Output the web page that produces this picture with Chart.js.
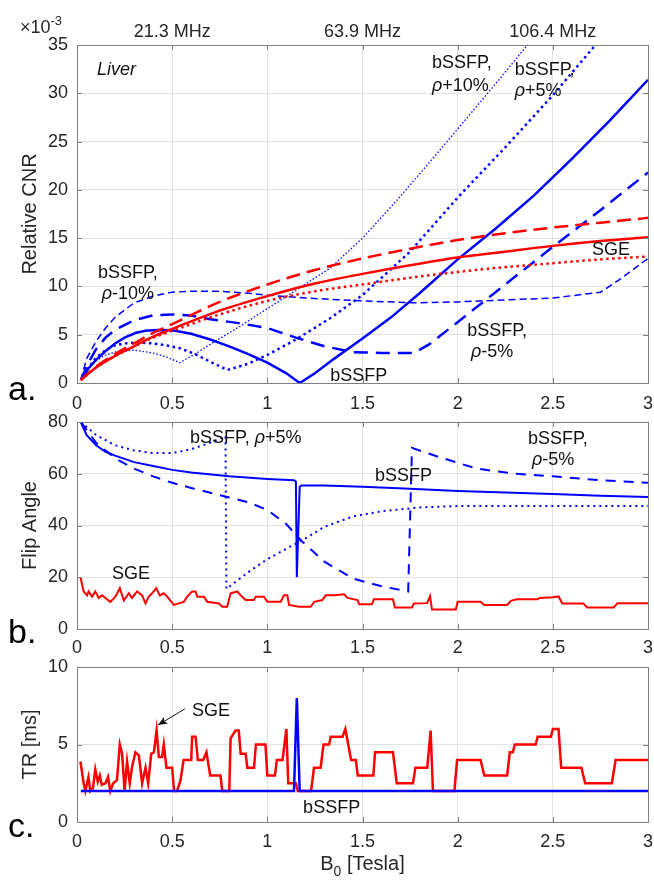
<!DOCTYPE html>
<html>
<head>
<meta charset="utf-8">
<title>Liver CNR, flip angle and TR vs B0</title>
<script src="https://cdn.jsdelivr.net/npm/chart.js@4.4.1/dist/chart.umd.min.js"></script>
<style>
  html, body { margin:0; padding:0; background:#fff; }
  #wrap { position:relative; width:654px; height:881px; }
  #wrap canvas { position:absolute; left:0; }
</style>
</head>
<body>
<div id="wrap">
  <canvas id="cnrChart" width="654" height="415" style="top:0"></canvas>
  <canvas id="faChart" width="654" height="260" style="top:400px"></canvas>
  <canvas id="trChart" width="654" height="236" style="top:645px"></canvas>
</div>
<script>
// ==== Panel a: relative CNR (x 1e-3) ====
const sgeX     = [0.02,0.1,0.2,0.3,0.4,0.5,0.75,1.0,1.25,1.5,1.75,2.0,2.25,2.5,2.75,3.0];
const sgeCnr   = [0.3,1.6,2.8,3.8,4.8,5.6,7.5,9.0,10.3,11.3,12.2,13.0,13.6,14.2,14.7,15.1];
const sgeCnrHi = [0.3,1.7,3.0,4.1,5.2,6.1,8.4,10.2,11.7,12.9,13.9,14.8,15.5,16.1,16.6,17.1];
const sgeCnrLo = [0.3,1.6,2.8,3.8,4.7,5.4,7.1,8.5,9.5,10.2,10.9,11.5,12.0,12.4,12.8,13.1];

const ssfpX   = [0.02,0.06,0.1,0.15,0.2,0.25,0.31,0.36,0.42,0.5,0.6,0.7,0.8,0.9,1.0,1.1,1.17,1.25,1.35,1.5,1.65,1.8,2.0,2.2,2.4,2.6,2.8,3.0];
const ssfpCnr = [0.3,1.5,2.4,3.3,4.1,4.7,5.2,5.4,5.5,5.45,5.1,4.5,3.8,3.0,2.1,1.0,0,1.0,2.5,4.6,6.8,9.3,12.8,16.0,19.4,23.2,27.2,31.4];

const ssfpP10X   = [0.02,0.06,0.1,0.15,0.2,0.3,0.4,0.47,0.54,0.62,0.7,0.85,1.0,1.15,1.33,1.5,1.68,1.85,2.0,2.2,2.4];
const ssfpP10Cnr = [0.3,1.5,2.3,2.9,3.2,3.4,3.1,2.7,2.1,3.0,4.0,5.8,7.7,9.6,11.9,15.0,18.9,22.8,26.3,31.0,35.8];

const ssfpP5X   = [0.02,0.06,0.1,0.15,0.2,0.25,0.32,0.4,0.47,0.54,0.62,0.7,0.79,0.9,1.0,1.15,1.33,1.5,1.75,2.0,2.25,2.5,2.75];
const ssfpP5Cnr = [0.3,1.6,2.6,3.4,3.9,4.1,4.2,4.1,3.9,3.6,3.0,2.2,1.35,2.0,2.9,4.5,6.7,9.1,13.6,19.2,24.4,29.8,35.6];

const ssfpM10X   = [0.02,0.05,0.1,0.15,0.2,0.3,0.4,0.5,0.6,0.75,0.9,1.0,1.2,1.5,1.77,2.0,2.25,2.5,2.75,2.85,3.0];
const ssfpM10Cnr = [0.3,2.5,4.3,5.7,6.8,8.3,9.0,9.4,9.5,9.5,9.3,9.1,8.8,8.5,8.3,8.4,8.6,8.8,9.4,10.7,12.9];

const ssfpM5X   = [0.02,0.06,0.1,0.15,0.2,0.3,0.4,0.5,0.6,0.7,0.85,1.0,1.15,1.3,1.45,1.6,1.77,1.85,2.0,2.25,2.5,2.75,3.0];
const ssfpM5Cnr = [0.3,2.1,3.5,4.7,5.5,6.5,7.0,7.1,7.0,6.6,6.2,5.7,4.7,3.8,3.2,3.1,3.1,4.0,6.3,10.2,14.1,17.9,21.8];

// ==== Panel b: flip angle (deg) ====
const faSsfpX = [0.02,0.05,0.1,0.15,0.2,0.3,0.4,0.5,0.6,0.8,1.0,1.14,1.15,1.155,1.17,1.18,1.3,1.5,1.75,2.0,2.25,2.5,2.75,3.0];
const faSsfp  = [80,75,71,68.5,67,64.5,63,61.5,60.5,59,58,57.5,57,20,55,55.5,55.5,55,54.2,53.3,52.8,52.2,51.5,51];

const faP5X = [0.02,0.1,0.2,0.3,0.4,0.5,0.6,0.7,0.78,0.785,0.9,1.0,1.1,1.2,1.3,1.45,1.6,1.8,2.0,2.5,3.0];
const faP5  = [80,75,71,69,68,68,69.5,72,74.5,15.5,22,27,31,35,39.5,43.5,45.5,47,47.5,47.5,47.5];

const faM5X = [0.02,0.1,0.2,0.3,0.4,0.5,0.6,0.79,0.9,1.0,1.1,1.18,1.3,1.45,1.6,1.74,1.76,1.9,2.1,2.3,2.5,2.75,3.0];
const faM5  = [80,72,66,62,59,56.5,54.5,51,49,46,40.5,34,26,19.5,16.5,14.5,70,66.5,62,60,59,57.5,56.5];

const faSgeX = [0.018,0.035,0.053,0.061,0.079,0.096,0.114,0.132,0.149,0.175,0.202,0.225,0.246,0.272,0.289,0.316,0.342,0.36,0.377,0.395,0.416,0.435,0.456,0.474,0.509,0.535,0.561,0.579,0.605,0.623,0.632,0.667,0.684,0.746,0.763,0.789,0.807,0.842,0.86,0.886,0.93,0.939,0.982,1.0,1.07,1.088,1.105,1.114,1.167,1.228,1.246,1.289,1.307,1.351,1.404,1.421,1.474,1.482,1.55,1.56,1.66,1.67,1.76,1.77,1.84,1.855,1.865,1.99,2.0,2.12,2.14,2.26,2.28,2.31,2.42,2.43,2.5,2.53,2.55,2.66,2.68,2.82,2.84,3.0];
const faSge  = [20,14.5,13,14.5,12.5,14.5,12,13,12,10.5,12.5,15.8,11,13.8,12,14.5,13,9.9,12.5,13.8,15.8,13,13.8,12.5,9.3,9.9,10.5,12.5,14.5,14.5,12.5,12.5,10.5,9.9,8.6,8.6,13.8,14.5,13,11.2,11.2,12.5,12.5,10.5,10.5,13,13,9.3,8.6,8.6,10.5,11.2,13,13,13.4,12,11.2,9.6,9.6,11.5,11.5,8.3,8.3,9.9,10,12.7,7.5,7.5,10.5,10.5,9.3,9.3,10.9,11.5,11.5,12,12.3,12.6,9.9,9.9,8.3,8.3,10,10];

// ==== Panel c: TR (ms) ====
const trSgeX = [0.018,0.035,0.044,0.06,0.07,0.084,0.096,0.109,0.12,0.13,0.149,0.163,0.175,0.19,0.21,0.225,0.237,0.25,0.263,0.277,0.29,0.307,0.325,0.342,0.36,0.374,0.39,0.404,0.418,0.43,0.447,0.456,0.47,0.5,0.51,0.526,0.544,0.56,0.6,0.605,0.623,0.635,0.663,0.68,0.7,0.754,0.763,0.8,0.807,0.833,0.85,0.86,0.886,0.895,0.93,0.94,0.99,1.0,1.04,1.05,1.08,1.1,1.11,1.15,1.16,1.23,1.245,1.28,1.295,1.325,1.333,1.395,1.41,1.44,1.465,1.475,1.557,1.566,1.66,1.68,1.765,1.778,1.84,1.858,1.87,1.983,1.997,2.12,2.14,2.26,2.274,2.29,2.3,2.41,2.42,2.49,2.5,2.53,2.544,2.65,2.67,2.81,2.83,3.0];
const trSge  = [3.9,2.5,2.0,2.9,2.0,2.2,3.4,2.6,3.0,2.4,2.5,2.9,2.0,2.5,2.7,5.0,4.4,2.0,3.9,2.5,3.6,4.5,4.3,2.5,3.5,2.5,4.4,4.5,5.9,4.2,4.2,5.0,3.5,3.5,2.0,2.0,2.7,4.0,4.0,5.5,5.5,4.0,4.0,4.5,3.0,3.0,2.0,2.0,5.4,5.9,5.9,4.4,4.4,3.5,3.5,5.0,5.0,3.0,3.0,4.0,4.0,6.0,2.5,2.5,2.0,2.0,3.5,3.5,5.0,5.0,5.5,5.5,6.0,4.0,4.0,3.0,3.0,4.5,4.5,2.5,2.5,3.5,3.5,5.9,2.0,2.0,4.0,4.0,3.0,3.0,4.5,4.5,5.0,5.0,5.5,5.5,6.0,6.0,3.5,3.5,2.5,2.5,4.0,4.0];
const trSsfpX = [0.02,1.14,1.155,1.17,3.0];
const trSsfp  = [2,2,8,2,2];

// ==== Axes ====
const fieldRange = [0, 3];
const mhzAt      = [0.5, 1.5, 2.5];
const mhzLabels  = ["21.3 MHz", "63.9 MHz", "106.4 MHz"];

// ==== Styling ====
const FONT = "'Liberation Sans', Arial, sans-serif";
const RED = "#ff0000", BLUE = "#0000ff";
const GRID = "#e2e2e2", BOX = "#808080", INK = "#262626";
const NONE = "rgba(0,0,0,0)";

const pts = (xs, ys) => xs.map((x, i) => ({ x, y: ys[i] }));

function line(xs, ys, color, width, dash, smooth) {
  return {
    data: pts(xs, ys), borderColor: color, borderWidth: width, borderDash: dash || [],
    pointRadius: 0, fill: false, tension: 0,
    cubicInterpolationMode: smooth ? "monotone" : "default",
    xAxisID: "x", yAxisID: "y"
  };
}

// draw a run of text pieces (italic / superscript / subscript) starting at x
function drawRich(ctx, parts, x, y, size, align, baseline) {
  const fontOf = p => `${p.it ? "italic " : ""}${(p.sup || p.sub) ? Math.round(size * 0.72) : size}px ${FONT}`;
  let total = 0;
  parts.forEach(p => { ctx.font = fontOf(p); total += ctx.measureText(p.t).width; });
  let cx = align === "center" ? x - total / 2 : x;
  ctx.textAlign = "left";
  ctx.textBaseline = baseline || "middle";
  parts.forEach(p => {
    ctx.font = fontOf(p);
    const dy = p.sup ? -size * 0.42 : p.sub ? size * 0.3 : 0;
    ctx.fillText(p.t, cx, y + dy);
    cx += ctx.measureText(p.t).width;
  });
}

// MATLAB-style inward tick marks on all four sides of the box
const boxTicks = {
  id: "boxTicks",
  afterDraw(chart) {
    const { ctx, chartArea: a } = chart;
    const sx = chart.scales.x, sy = chart.scales.y;
    ctx.save();
    ctx.strokeStyle = BOX; ctx.lineWidth = 1;
    ctx.beginPath();
    sx.ticks.forEach(t => {
      const px = Math.round(sx.getPixelForValue(t.value)) + 0.5;
      ctx.moveTo(px, a.bottom); ctx.lineTo(px, a.bottom - 5);
      ctx.moveTo(px, a.top); ctx.lineTo(px, a.top + 5);
    });
    sy.ticks.forEach(t => {
      const py = Math.round(sy.getPixelForValue(t.value)) + 0.5;
      ctx.moveTo(a.left, py); ctx.lineTo(a.left + 5, py);
      ctx.moveTo(a.right, py); ctx.lineTo(a.right - 5, py);
    });
    ctx.stroke();
    ctx.restore();
  }
};

const notes = {
  id: "notes",
  afterDatasetsDraw(chart, args, opts) {
    const { ctx, chartArea } = chart;
    const sx = chart.scales.x, sy = chart.scales.y;
    ctx.save();
    ctx.fillStyle = "#111";
    (opts.labels || []).forEach(l => {
      drawRich(ctx, l.parts, sx.getPixelForValue(l.x), sy.getPixelForValue(l.y), 18, l.align);
    });
    if (opts.arrow) {
      const [x0, y0, x1, y1] = opts.arrow;
      const ax = sx.getPixelForValue(x0), ay = sy.getPixelForValue(y0);
      const bx = sx.getPixelForValue(x1), by = sy.getPixelForValue(y1);
      const ang = Math.atan2(by - ay, bx - ax);
      ctx.strokeStyle = "#111"; ctx.lineWidth = 1;
      ctx.beginPath(); ctx.moveTo(ax, ay); ctx.lineTo(bx, by); ctx.stroke();
      ctx.beginPath();
      ctx.moveTo(bx, by);
      ctx.lineTo(bx - 10 * Math.cos(ang - 0.4), by - 10 * Math.sin(ang - 0.4));
      ctx.lineTo(bx - 7 * Math.cos(ang), by - 7 * Math.sin(ang));
      ctx.lineTo(bx - 10 * Math.cos(ang + 0.4), by - 10 * Math.sin(ang + 0.4));
      ctx.closePath(); ctx.fill();
    }
    // panel letter, exponent, field title (outside the plot box)
    ctx.fillStyle = "#000";
    drawRich(ctx, [{ t: opts.letter }], 8, chartArea.bottom + opts.letterDrop, 34, "left", "alphabetic");
    ctx.fillStyle = INK;
    if (opts.exponent) drawRich(ctx, [{ t: "×10" }, { t: "-3", sup: true }], 20, 33, 18, "left", "alphabetic");
    if (opts.fieldTitle) {
      drawRich(ctx, [{ t: "B" }, { t: "0", sub: true }, { t: " [Tesla]" }],
        (chartArea.left + chartArea.right) / 2, chartArea.bottom + 48, 20, "center", "alphabetic");
    }
    ctx.restore();
  }
};

const fixW = w => s => { s.width = w; };
const fixH = h => s => { s.height = h; };
const fmtField = v => String(Math.round(v * 10) / 10);

function makePanel(id, cfg) {
  const tickFont = { family: FONT, size: 18 };
  return new Chart(document.getElementById(id), {
    type: "line",
    data: { datasets: cfg.datasets },
    plugins: [notes, boxTicks],
    options: {
      responsive: false, animation: false, devicePixelRatio: 1,
      layout: { padding: 0 },
      plugins: { legend: { display: false }, tooltip: { enabled: false }, notes: cfg.notes },
      scales: {
        x: {
          type: "linear", position: "bottom", min: fieldRange[0], max: fieldRange[1],
          afterFit: fixH(cfg.bottomH),
          // label gap comes from an invisible tick mark so no side padding is added
          ticks: { stepSize: 0.5, padding: 0, color: INK, font: tickFont, maxRotation: 0, callback: fmtField },
          grid: { color: GRID, drawTicks: true, tickLength: cfg.xPad, tickColor: NONE }, border: { color: BOX }
        },
        xTop: {
          type: "linear", position: "top", min: fieldRange[0], max: fieldRange[1],
          afterFit: fixH(cfg.topH),
          afterBuildTicks: s => { s.ticks = mhzAt.map(v => ({ value: v })); },
          ticks: { display: !!cfg.mhz, callback: (v, i) => mhzLabels[i], padding: 2, color: INK, font: tickFont, maxRotation: 0 },
          grid: { display: false, drawTicks: false }, border: { color: BOX }
        },
        y: {
          position: "left", min: cfg.yMin, max: cfg.yMax, afterFit: fixW(77),
          ticks: { stepSize: cfg.yStep, padding: 9, color: INK, font: tickFont },
          grid: { color: GRID, drawTicks: false }, border: { color: BOX },
          title: { display: true, text: cfg.yTitle, color: INK, font: { family: FONT, size: 20 }, padding: { top: 18, bottom: 0 } }
        },
        yR: {
          position: "right", min: cfg.yMin, max: cfg.yMax, afterFit: fixW(6),
          ticks: { display: false }, grid: { display: false, drawTicks: false }, border: { color: BOX }
        }
      }
    }
  });
}

const rho = (rest) => [{ t: "ρ", it: true }, { t: rest }];

// ==== a. Relative CNR ====
makePanel("cnrChart", {
  yMin: 0, yMax: 35, yStep: 5, yTitle: "Relative CNR",
  topH: 45, bottomH: 32, xPad: 10, mhz: true,
  datasets: [
    line(sgeX, sgeCnr, RED, 2.5, null, true),
    line(sgeX, sgeCnrHi, RED, 2.5, [14, 7], true),
    line(sgeX, sgeCnrLo, RED, 2.5, [2.5, 3.5], true),
    line(ssfpX, ssfpCnr, BLUE, 2.5),
    line(ssfpP10X, ssfpP10Cnr, BLUE, 1.3, [1.5, 2]),
    line(ssfpP5X, ssfpP5Cnr, BLUE, 2.5, [2.5, 3.5]),
    line(ssfpM10X, ssfpM10Cnr, BLUE, 1.5, [7, 4]),
    line(ssfpM5X, ssfpM5Cnr, BLUE, 2.5, [14, 8])
  ],
  notes: {
    letter: "a.", letterDrop: 17, exponent: true,
    labels: [
      { x: 0.105, y: 32.4, parts: [{ t: "Liver", it: true }] },
      { x: 1.865, y: 33.1, parts: [{ t: "bSSFP," }] },
      { x: 1.865, y: 30.8, parts: rho("+10%") },
      { x: 2.30, y: 32.4, parts: [{ t: "bSSFP," }] },
      { x: 2.30, y: 30.2, parts: rho("+5%") },
      { x: 0.11, y: 11.4, parts: [{ t: "bSSFP," }] },
      { x: 0.13, y: 9.2, parts: rho("-10%") },
      { x: 2.706, y: 13.8, parts: [{ t: "SGE" }] },
      { x: 2.05, y: 5.4, parts: [{ t: "bSSFP," }] },
      { x: 2.07, y: 3.2, parts: rho("-5%") },
      { x: 1.33, y: 0.7, parts: [{ t: "bSSFP" }] }
    ]
  }
});

// ==== b. Flip angle ====
makePanel("faChart", {
  yMin: 0, yMax: 80, yStep: 20, yTitle: "Flip Angle",
  topH: 22, bottomH: 31, xPad: 8,
  datasets: [
    line(faSsfpX, faSsfp, BLUE, 2),
    line(faP5X, faP5, BLUE, 2, [2, 4]),
    line(faM5X, faM5, BLUE, 2, [10, 8]),
    line(faSgeX, faSge, RED, 2)
  ],
  notes: {
    letter: "b.", letterDrop: 14,
    labels: [
      { x: 0.594, y: 73.8, parts: [{ t: "bSSFP, " }, { t: "ρ", it: true }, { t: "+5%" }] },
      { x: 0.184, y: 21.2, parts: [{ t: "SGE" }] },
      { x: 1.566, y: 59.1, parts: [{ t: "bSSFP" }] },
      { x: 2.37, y: 73.4, parts: [{ t: "bSSFP," }] },
      { x: 2.39, y: 65.3, parts: rho("-5%") }
    ]
  }
});

// ==== c. Repetition time ====
makePanel("trChart", {
  yMin: 0, yMax: 10, yStep: 5, yTitle: "TR [ms]",
  topH: 22, bottomH: 59, xPad: 9,
  datasets: [
    line(trSsfpX, trSsfp, BLUE, 2.5),
    line(trSgeX, trSge, RED, 2.5)
  ],
  notes: {
    letter: "c.", letterDrop: 15, fieldTitle: true,
    arrow: [0.567, 7.3, 0.426, 6.26],
    labels: [
      { x: 0.604, y: 7.16, parts: [{ t: "SGE" }] },
      { x: 1.188, y: 0.9, parts: [{ t: "bSSFP" }] }
    ]
  }
});
</script>
</body>
</html>
